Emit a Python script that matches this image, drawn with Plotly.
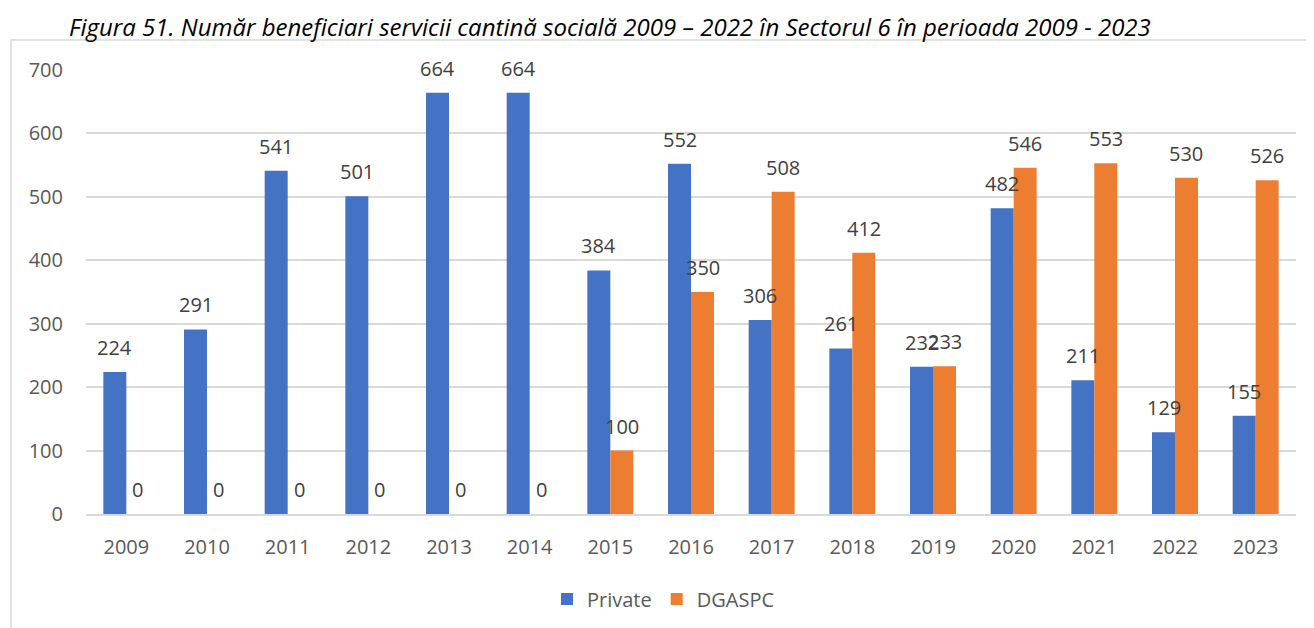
import plotly.graph_objects as go

years = ["2009", "2010", "2011", "2012", "2013", "2014", "2015", "2016",
         "2017", "2018", "2019", "2020", "2021", "2022", "2023"]
private = [224, 291, 541, 501, 664, 664, 384, 552, 306, 261, 232, 482, 211, 129, 155]
dgaspc = [0, 0, 0, 0, 0, 0, 100, 350, 508, 412, 233, 546, 553, 530, 526]
y_ticks = [0, 100, 200, 300, 400, 500, 600, 700]

title_text = "Figura 51. Număr beneficiari servicii cantină socială 2009 – 2022 în Sectorul 6 în perioada 2009 - 2023"

BLUE = "#4472C4"
ORANGE = "#ED7D31"
FONT = "Open Sans"
BARGAP = 0.43

# page body has an 8px margin; work in page pixels and convert
OFF = 8
W, H = 1314 - OFF, 628 - OFF
PL, PR, PT, PB = 86, 1296, 70, 514  # plot area in page pixels
L, T = PL - OFF, PT - OFF
R = W - (PR - OFF)
B = H - (PB - OFF)
pw, ph = PR - PL, PB - PT


def px_x(p):
    return (p - PL) / pw


def px_y(p):
    return (PB - p) / ph


fig = go.Figure()
fig.add_trace(go.Bar(name="Private", x=years, y=private, marker_color=BLUE,
                     marker_line_width=0))
fig.add_trace(go.Bar(name="DGASPC", x=years, y=dgaspc, marker_color=ORANGE,
                     marker_line_width=0))

half = (1 - BARGAP) / 4
annotations = []
for i in range(len(years)):
    for val, sh in ((private[i], -half), (dgaspc[i], half)):
        annotations.append(dict(x=i + sh, y=val, xref="x", yref="y", text=str(val),
                                showarrow=False, yanchor="bottom", yshift=9,
                                font=dict(family=FONT, size=20, color="#404040")))

annotations.append(dict(x=px_x(610), y=px_y(27), xref="paper", yref="paper",
                        text="<i>" + title_text + "</i>", showarrow=False,
                        xanchor="center", yanchor="middle",
                        font=dict(family=FONT, size=24, color="#000000")))

fig.update_layout(
    width=W, height=H,
    margin=dict(l=L, r=R, t=T, b=B, autoexpand=False),
    paper_bgcolor="white", plot_bgcolor="white",
    barmode="group", bargap=BARGAP, bargroupgap=0,
    showlegend=True,
    legend=dict(orientation="h", x=px_x(547), y=px_y(599), xanchor="left",
                yanchor="middle", font=dict(family=FONT, size=20, color="#595959"),
                itemsizing="constant", traceorder="normal"),
    annotations=annotations,
    shapes=[dict(type="rect", xref="paper", yref="paper",
                 x0=px_x(11), x1=px_x(1340), y0=px_y(40), y1=px_y(680),
                 line=dict(color="#D9D9D9", width=1.5), fillcolor="rgba(0,0,0,0)",
                 layer="below")],
    xaxis=dict(type="category", showgrid=False, showline=True, linecolor="#D9D9D9",
               linewidth=1.5, ticks="", ticklabelstandoff=14,
               tickfont=dict(family=FONT, size=20, color="#595959")),
    yaxis=dict(range=[0, 700], tickvals=y_ticks, showgrid=True, gridcolor="#D9D9D9",
               gridwidth=1.5, zeroline=False, showline=False, ticks="",
               ticklabelstandoff=22,
               tickfont=dict(family=FONT, size=20, color="#595959")),
)

fig.write_html("out.html")
